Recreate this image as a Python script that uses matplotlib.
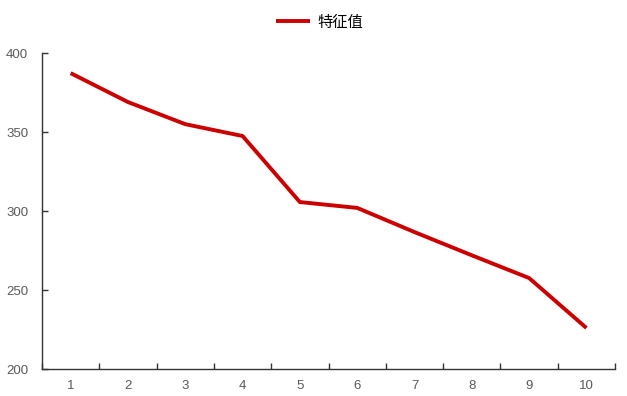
import matplotlib
matplotlib.use("Agg")
import matplotlib.pyplot as plt

categories = ["1", "2", "3", "4", "5", "6", "7", "8", "9", "10"]
values = [387.3, 369, 355, 347.5, 305.7, 302, 286.7, 272, 257.6, 226]
series_name = "特征值"
y_ticks = [200, 250, 300, 350, 400]

plt.rcParams['font.family'] = ['Liberation Sans', 'DejaVu Sans']

fig = plt.figure(figsize=(6.27, 3.96), dpi=100)
ax = fig.add_axes([0.067, 0.068, 0.914, 0.798])

x = list(range(1, len(categories) + 1))
ax.plot(x, values, color="#CC0000", linewidth=2.8, label=series_name, solid_capstyle="butt")

ax.set_xlim(0.5, len(categories) + 0.5)
ax.set_ylim(200, 400)
ax.set_yticks(y_ticks)
ax.set_yticklabels([str(t) for t in y_ticks])

# category axis: ticks at boundaries, labels at centres
ax.set_xticks([i + 0.5 for i in range(0, len(categories) + 1)])
ax.set_xticklabels([])
ax.set_xticks(x, minor=True)
ax.set_xticklabels(categories, minor=True)
ax.tick_params(axis='x', which='major', direction='in', length=4, width=1, color='#333333')
ax.tick_params(axis='x', which='minor', length=0, pad=8, labelsize=9.5, labelcolor='#595959')
ax.tick_params(axis='y', direction='in', length=4, width=1, color='#333333', pad=10,
               labelsize=9.5, labelcolor='#595959')

for s in ['top', 'right']:
    ax.spines[s].set_visible(False)
for s in ['left', 'bottom']:
    ax.spines[s].set_color('#333333')
    ax.spines[s].set_linewidth(1)

leg = fig.legend(loc='upper center', bbox_to_anchor=(0.51, 1.0), frameon=False,
                 prop={'family': ['Noto Sans CJK SC', 'DejaVu Sans'], 'size': 11},
                 handlelength=2.2, handletextpad=0.5)

fig.savefig("out.png", dpi=100)
